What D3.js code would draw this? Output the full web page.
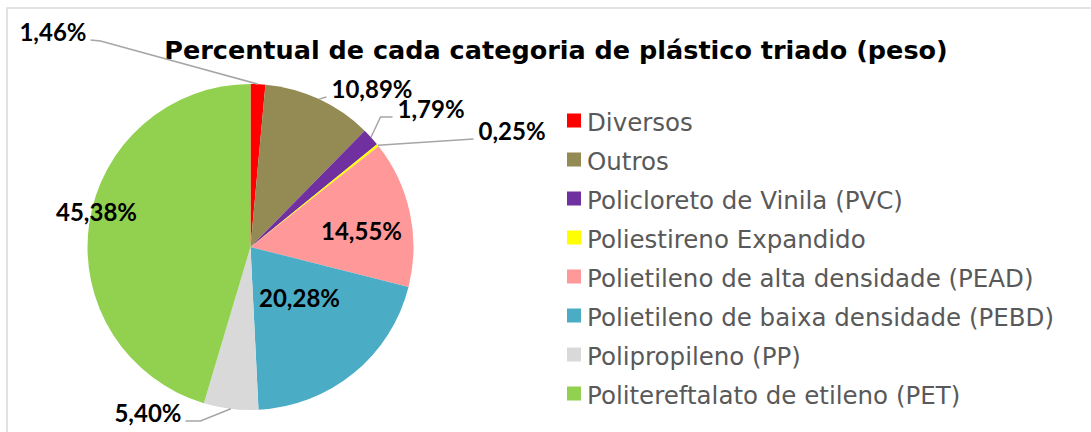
<!DOCTYPE html>
<meta charset="utf-8">

<style>

body {
  margin: 0;
  background: white;
}

svg.chart {
  background: white;
  font-family: "DejaVu Sans", sans-serif;
}

svg.chart .frame {
  stroke: #d9d9d9;
  stroke-width: 1.5;
  fill: none;
}

svg.chart .title {
  font-size: 25.5px;
  font-weight: bold;
  fill: #000;
  text-anchor: middle;
}

svg.chart .value {
  font-family: Lato, sans-serif;
  font-size: 24px;
  font-weight: bold;
  fill: #000;
}

svg.chart .leader {
  stroke: #a6a6a6;
  stroke-width: 1.5;
  fill: none;
}

svg.chart .legend text {
  font-size: 24.5px;
  fill: #595959;
}

</style>


<svg class="chart" width="1091" height="432"></svg>


<script src="https://d3js.org/d3.v7.min.js"></script>

<script>

var categories = [
  "Diversos",
  "Outros",
  "Policloreto de Vinila (PVC)",
  "Poliestireno Expandido",
  "Polietileno de alta densidade (PEAD)",
  "Polietileno de baixa densidade (PEBD)",
  "Polipropileno (PP)",
  "Politereftalato de etileno (PET)"
];
var values = [1.46, 10.89, 1.79, 0.25, 14.55, 20.28, 5.40, 45.38];
var colors = ["#ff0000", "#948a54", "#7030a0", "#ffff00", "#ff9999", "#4bacc6", "#d9d9d9", "#92d050"];
var title = "Percentual de cada categoria de plástico triado (peso)";

// where each value label sits (relative to pie centre) and whether it needs a leader
var labelLayout = [
  {x: -164, y: -206, anchor: "end",    elbow: [-150, -206], leader: true},
  {x: 81,   y: -149, anchor: "start",  elbow: null,         leader: true},
  {x: 147,  y: -129, anchor: "start",  elbow: [130, -130],  leader: true},
  {x: 228,  y: -107, anchor: "start",  elbow: null,         leader: true},
  {x: 111,  y: -7,   anchor: "middle", leader: false},
  {x: 49,   y: 60,   anchor: "middle", leader: false},
  {x: -69,  y: 175,  anchor: "end",    elbow: [-50, 174],   leader: true},
  {x: -154, y: -26,  anchor: "middle", leader: false}
];

var svg = d3.select("svg.chart");
var cx = 250.5, cy = 247, radius = 163;

svg.append("path")
  .attr("class", "frame")
  .attr("d", "M7,432V8H1091");

svg.append("text")
  .attr("class", "title")
  .attr("x", 556)
  .attr("y", 59)
  .text(title);

var data = categories.map(function(name, i) {
  return {name: name, value: values[i], color: colors[i], layout: labelLayout[i]};
});

var pie = d3.pie()
  .sort(null)
  .value(function(d) { return d.value; });

var arc = d3.arc()
  .innerRadius(0)
  .outerRadius(radius);

var pieGroup = svg.append("g")
  .attr("transform", `translate(${cx},${cy})`);

var slices = pie(data);

pieGroup.selectAll(".slice")
  .data(slices)
  .enter().append("path")
    .attr("class", "slice")
    .attr("d", arc)
    .attr("fill", function(d) { return d.data.color; });

function edgePoint(d) {
  var a = (d.startAngle + d.endAngle) / 2;
  return [Math.sin(a) * radius, -Math.cos(a) * radius];
}

// leaders
pieGroup.selectAll(".leader")
  .data(slices.filter(function(d) { return d.data.layout.leader; }))
  .enter().append("path")
    .attr("class", "leader")
    .attr("d", function(d) {
      var L = d.data.layout;
      var p = edgePoint(d);
      var startX = L.anchor === "end" ? L.x + 4 : L.x - 5;
      var pts = [[startX, L.y - 1]];
      if (L.elbow) pts.push(L.elbow);
      pts.push(p);
      return d3.line()(pts);
    });

// value labels
pieGroup.selectAll(".value")
  .data(slices)
  .enter().append("text")
    .attr("class", "value")
    .attr("x", function(d) { return d.data.layout.x; })
    .attr("y", function(d) { return d.data.layout.y; })
    .attr("text-anchor", function(d) { return d.data.layout.anchor; })
    .text(function(d) { return d.data.value.toFixed(2).replace(".", ",") + "%"; });

// legend
var legendY = d3.scaleBand()
  .domain(categories)
  .range([101, 413]);

var legend = svg.append("g")
  .attr("class", "legend")
  .selectAll("g")
  .data(data)
  .enter().append("g")
    .attr("transform", function(d) {
      return `translate(567,${legendY(d.name) + legendY.bandwidth() / 2})`;
    });

legend.append("rect")
  .attr("y", -7)
  .attr("width", 14)
  .attr("height", 14)
  .attr("fill", function(d) { return d.color; });

legend.append("text")
  .attr("x", 20)
  .attr("y", 10)
  .text(function(d) { return d.name; });

</script>
